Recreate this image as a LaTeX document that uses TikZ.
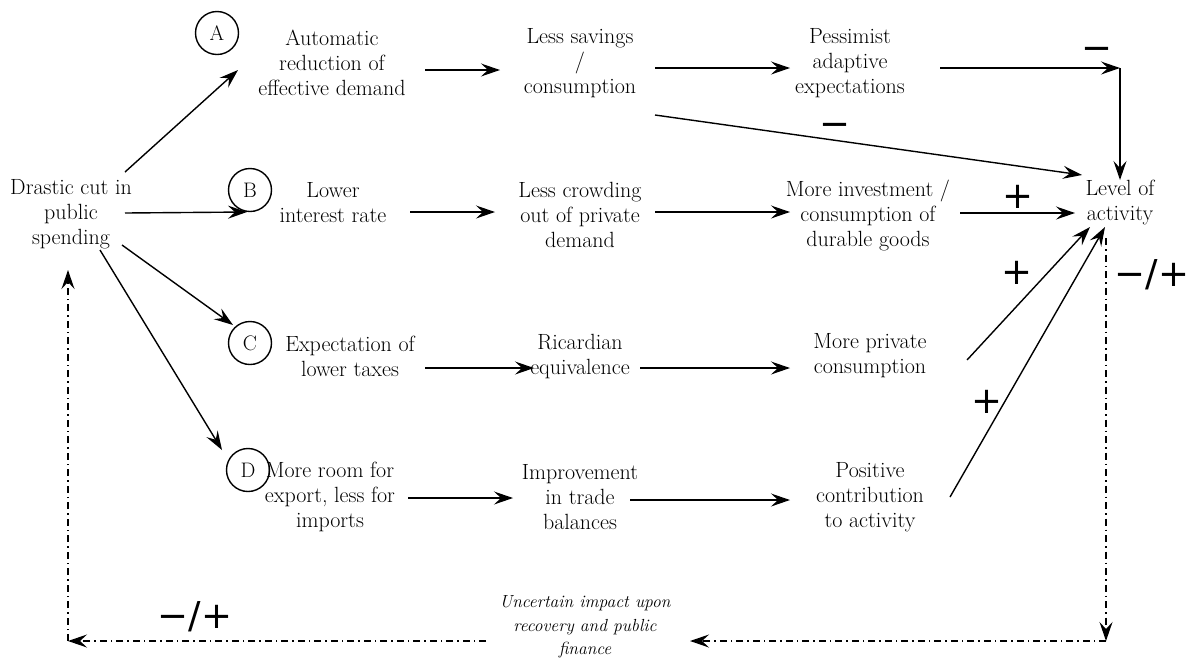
\documentclass[tikz,border=0pt]{standalone}
\usepackage{fontspec}
\newfontfamily\signfont{DejaVu Sans}
\usetikzlibrary{arrows.meta,calc}
\begin{document}
\begin{tikzpicture}[x=1pt,y=-1pt,
  txt/.style={align=center,font=\fontsize{22}{25}\selectfont,inner sep=0pt},
  circ/.style={draw,circle,minimum size=43pt,inner sep=0pt,line width=1.4pt,font=\fontsize{21}{25}\selectfont},
  arr/.style={-{Stealth[length=19pt,width=13pt,inset=7pt]},line width=1.4pt},
  dd/.style={arr,dash pattern=on 7pt off 4pt on 1.5pt off 4pt,line width=1.5pt},
  sign/.style={font=\signfont\fontsize{37}{37}\selectfont,inner sep=0pt},
]
\useasboundingbox (0,0) rectangle (1198,657);
\node[txt] (drastic) at (71,214) {Drastic cut in\\public\\spending};
\node[circ] (cA) at (217,33) {A};
\node[txt] (auto) at (332,63) {Automatic\\reduction of\\effective demand};
\node[txt] (less) at (580,63) {Less savings\\/\\consumption};
\node[txt] (pess) at (850,63) {Pessimist\\adaptive\\expectations};
\node[txt] (level) at (1120,203) {Level of\\activity};
\node[circ] (cB) at (250,190) {B};
\node[txt] (lower) at (333,203) {Lower\\interest rate};
\node[txt] (crowd) at (580,215) {Less crowding\\out of private\\demand};
\node[txt] (inv) at (868,215) {More investment /\\consumption of\\durable goods};
\node[circ] (cC) at (250,343) {C};
\node[txt] (expect) at (350,356) {Expectation of\\lower taxes};
\node[txt] (ricard) at (580,356) {Ricardian\\equivalence};
\node[txt] (priv) at (870,356) {More private\\consumption};
\node[circ] (cD) at (248,470) {D};
\node[txt] (room) at (330,497) {More room for\\export, less for\\imports};
\node[txt] (improve) at (580,497) {Improvement\\in trade\\balances};
\node[txt] (posit) at (870,497) {Positive\\contribution\\to activity};
\node[txt,font=\itshape\fontsize{17.5}{23.5}\selectfont] (uncert) at (585,627) {Uncertain impact upon\\recovery and public\\finance};
\coordinate (corner) at (1120,68);
\coordinate (br) at (1106,641);
\coordinate (bl) at (68,641);
% branches
\draw[arr] ($(drastic)+(54,-42)$) -- ($(auto)+(-94,7)$);
\draw[arr] ($(drastic)+(54,-1)$) -- ($(cB)+(-3,22)$);
\draw[arr] ($(drastic)+(51,31)$) -- ($(cC)+(-17,-18)$);
\draw[arr] ($(drastic)+(29,36)$) -- ($(cD)+(-26,-20)$);
% row A
\draw[arr] ($(auto)+(93,7)$) -- ($(less)+(-80,7)$);
\draw[arr] ($(less)+(75,5)$) -- ($(pess)+(-60,5)$);
\draw[arr] ($(pess)+(90,5)$) -- (corner);
\draw[arr] (corner) -- ($(level)+(0,-23)$);
\draw[arr] ($(less)+(75,52)$) -- ($(level)+(-38,-28)$);
% row B
\draw[arr] ($(lower)+(77,9)$) -- ($(crowd)+(-85,-3)$);
\draw[arr] ($(crowd)+(75,-3)$) -- ($(inv)+(-78,-3)$);
\draw[arr] ($(inv)+(92,-2)$) -- ($(level)+(-45,10)$);
% row C
\draw[arr] ($(expect)+(75,12)$) -- ($(ricard)+(-46,12)$);
\draw[arr] ($(ricard)+(60,12)$) -- ($(priv)+(-80,12)$);
\draw[arr] ($(priv)+(97,4)$) -- ($(level)+(-30,24)$);
% row D
\draw[arr] ($(room)+(78,1)$) -- ($(improve)+(-67,1)$);
\draw[arr] ($(improve)+(50,3)$) -- ($(posit)+(-80,3)$);
\draw[arr] ($(posit)+(80,0)$) -- ($(level)+(-15,24)$);
% feedback
\draw[dd] ($(level)+(-14,35)$) -- (br);
\draw[dd] (br) -- ($(uncert)+(105,14)$);
\draw[dd] ($(uncert)+(-99,14)$) -- (bl);
\draw[dd] (bl) -- ($(drastic)+(-3,56)$);
% signs
\node[sign] (m1) at (1097,54) {−};
\node[sign] (m2) at (835,130) {−};
\node[sign] (p1) at (1018,197) {+};
\node[sign] (p2) at (1017,273) {+};
\node[sign] (p3) at (987,402) {+};
\node[sign] (pm1) at (1152,275) {−/+};
\node[sign] (pm2) at (195,617) {−/+};
\end{tikzpicture}
\end{document}
